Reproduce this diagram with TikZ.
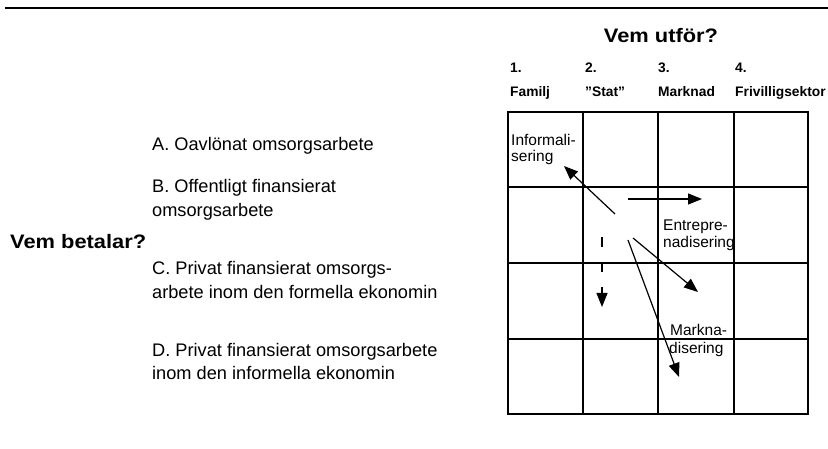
\documentclass[tikz,border=0pt]{standalone}
\usepackage{fontspec}
\setmainfont{Liberation Sans}
\newfontfamily\bodyfont{Liberation Sans}
\newfontfamily\titlefont[FakeStretch=1.12]{Liberation Sans}
\newfontfamily\cellfont{Liberation Sans}
\usetikzlibrary{arrows.meta}
\begin{document}
\begin{tikzpicture}[x=1pt,y=-1pt,
  gridline/.style={line width=1.5pt},
  rule/.style={line width=2pt},
  arr/.style={line width=1.2pt,-{Triangle[length=14pt,width=11pt]}},
  dasharr/.style={arr,dash pattern=on 10pt off 15pt},
  body/.style={anchor=base west,inner sep=0pt,font=\bodyfont\fontsize{18.2}{24}\selectfont},
  title/.style={anchor=base west,inner sep=0pt,font=\titlefont\bfseries\fontsize{19.5}{22}\selectfont},
  head/.style={anchor=base west,inner sep=0pt,font=\bfseries\fontsize{13.8}{17}\selectfont},
  celltext/.style={anchor=base west,inner sep=0pt,font=\cellfont\fontsize{15.5}{17}\selectfont}]
\useasboundingbox (0,0) rectangle (828,449);
\fill[white] (0,0) rectangle (828,449);
% top rule
\coordinate (r0) at (5,8);
\coordinate (r1) at (828,8);
\draw[rule] (r0) -- (r1);
% headings
\node[title,anchor=base] (vu) at (661,43) {Vem utför?};
\node[title] (vb) at (10,249) {Vem betalar?};
\node[head] (n1) at (510,73) {1.};
\node[head] (n2) at (585,73) {2.};
\node[head] (n3) at (658,73) {3.};
\node[head] (n4) at (735,73) {4.};
\node[head] (h1) at (510,97) {Familj};
\node[head] (h2) at (585,97) {”Stat”};
\node[head] (h3) at (658,97) {Marknad};
\node[head] (h4) at (735,97) {Frivilligsektor};
% row texts
\node[body] (a1) at (152,151) {A. Oavlönat omsorgsarbete};
\node[body] (b1) at (152,193) {B. Offentligt finansierat};
\node[body] (b2) at (152,217) {omsorgsarbete};
\node[body] (c1) at (152,275) {C. Privat finansierat omsorgs-};
\node[body] (c2) at (152,299) {arbete inom den formella ekonomin};
\node[body] (d1) at (152,356) {D. Privat finansierat omsorgsarbete};
\node[body] (d2) at (152,379) {inom den informella ekonomin};
% grid
\draw[gridline] (508,112) rectangle (808,414);
\foreach \x in {583,658,734} \draw[gridline] (\x,112) -- (\x,414);
\foreach \y in {187,263,339} \draw[gridline] (508,\y) -- (808,\y);
% cell texts
\node[celltext] (inf1) at (511,146) {Informali-};
\node[celltext] (inf2) at (511,162) {sering};
\node[celltext] (ent1) at (663,231) {Entrepre-};
\node[celltext] (ent2) at (663,248) {nadisering};
\node[celltext] (mar1) at (670,335) {Markna-};
\node[celltext] (mar2) at (669,353) {disering};
% arrows
\coordinate (i0) at (615,214); \coordinate (i1) at (564,166);
\coordinate (e0) at (628,199); \coordinate (e1) at (702,199);
\coordinate (s0) at (602,237); \coordinate (s1) at (602,307);
\coordinate (m0) at (633,238); \coordinate (m1) at (698,292);
\coordinate (k0) at (628,240); \coordinate (k1) at (679,377);
\draw[arr] (i0) -- (i1);
\draw[arr] (e0) -- (e1);
\draw[dasharr] (s0) -- (s1);
\draw[arr] (m0) -- (m1);
\draw[arr] (k0) -- (k1);
\end{tikzpicture}
\end{document}
